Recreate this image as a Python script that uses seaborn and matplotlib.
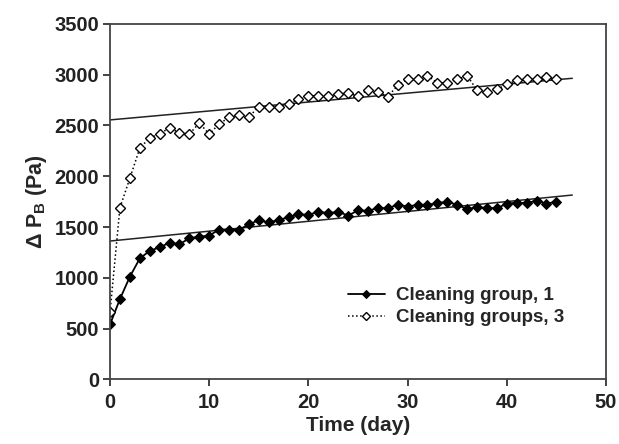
import numpy as np
import pandas as pd
import matplotlib
matplotlib.use("Agg")
import matplotlib.pyplot as plt
import seaborn as sns

days = list(range(46))
group1 = [540, 790, 1010, 1190, 1265, 1300, 1345, 1330, 1390, 1405, 1415, 1475, 1475, 1470,
          1530, 1565, 1545, 1570, 1595, 1625, 1620, 1650, 1637, 1650, 1613, 1663, 1660, 1686,
          1686, 1719, 1702, 1719, 1719, 1735, 1750, 1719, 1676, 1696, 1686, 1686, 1729, 1741,
          1735, 1761, 1729, 1751]
group3 = [660, 1690, 1980, 2275, 2380, 2415, 2480, 2425, 2415, 2525, 2415, 2515, 2580, 2600,
          2585, 2685, 2680, 2680, 2715, 2758, 2790, 2795, 2795, 2810, 2820, 2790, 2850, 2830,
          2784, 2895, 2955, 2955, 2990, 2920, 2920, 2955, 2990, 2850, 2833, 2856, 2905, 2945,
          2955, 2955, 2975, 2955]
fit_x = [0, 46.6]
fit1 = [1362, 1815]
fit3 = [2555, 2965]
labels = ["Cleaning group, 1", "Cleaning groups, 3"]
xticks = [0, 10, 20, 30, 40, 50]
yticks = [0, 500, 1000, 1500, 2000, 2500, 3000, 3500]

sns.set_style("ticks")
plt.rcParams['font.family'] = ['Liberation Sans', 'DejaVu Sans']
plt.rcParams['mathtext.fontset'] = 'custom'
plt.rcParams['mathtext.rm'] = 'Liberation Sans:bold'
plt.rcParams['mathtext.bf'] = 'Liberation Sans:bold'

fig = plt.figure(figsize=(6.19, 4.44), dpi=100)
ax = fig.add_axes([0.1777, 0.1457, 0.979 - 0.1777, 0.946 - 0.1457])

df1 = pd.DataFrame({"x": days, "y": group1})
df3 = pd.DataFrame({"x": days, "y": group3})

sns.lineplot(data=pd.DataFrame({"x": fit_x, "y": fit1}), x="x", y="y", ax=ax,
             color="#222222", lw=1.1, legend=False)
sns.lineplot(data=pd.DataFrame({"x": fit_x, "y": fit3}), x="x", y="y", ax=ax,
             color="#222222", lw=1.1, legend=False)
sns.lineplot(data=df1, x="x", y="y", ax=ax, color="black", lw=1.3, marker="D",
             markersize=5.3, markerfacecolor="black", markeredgecolor="black",
             label=labels[0])
sns.lineplot(data=df3, x="x", y="y", ax=ax, color="black", lw=1.1, linestyle=":",
             marker="D", markersize=5.3, markerfacecolor="white", markeredgecolor="black",
             markeredgewidth=1.0, label=labels[1])

ax.set_xlim(0, 50)
ax.set_ylim(0, 3500)
ax.set_xticks(xticks)
ax.set_yticks(yticks)
ax.tick_params(axis='both', direction='out', length=5, width=1.2, labelsize=14.5,
               colors='#222222', pad=3)
ax.tick_params(axis='x', pad=5)
for lab in ax.get_xticklabels() + ax.get_yticklabels():
    lab.set_fontweight('bold')
for s in ax.spines.values():
    s.set_linewidth(1.3)
    s.set_color('#444444')

ax.set_xlabel("Time (day)", fontsize=15, fontweight='bold', labelpad=3)
ax.set_ylabel(r"Δ P$_\mathregular{B}$ (Pa)", fontsize=15.5, fontweight='bold', labelpad=4)

leg = ax.legend(loc='upper left', bbox_to_anchor=(0.464, 0.28), frameon=False,
                prop={'weight': 'bold', 'size': 13.5}, handlelength=2.0,
                handletextpad=0.6, labelspacing=0.25, borderaxespad=0, markerscale=0.75)

fig.savefig("out.png", dpi=100)
